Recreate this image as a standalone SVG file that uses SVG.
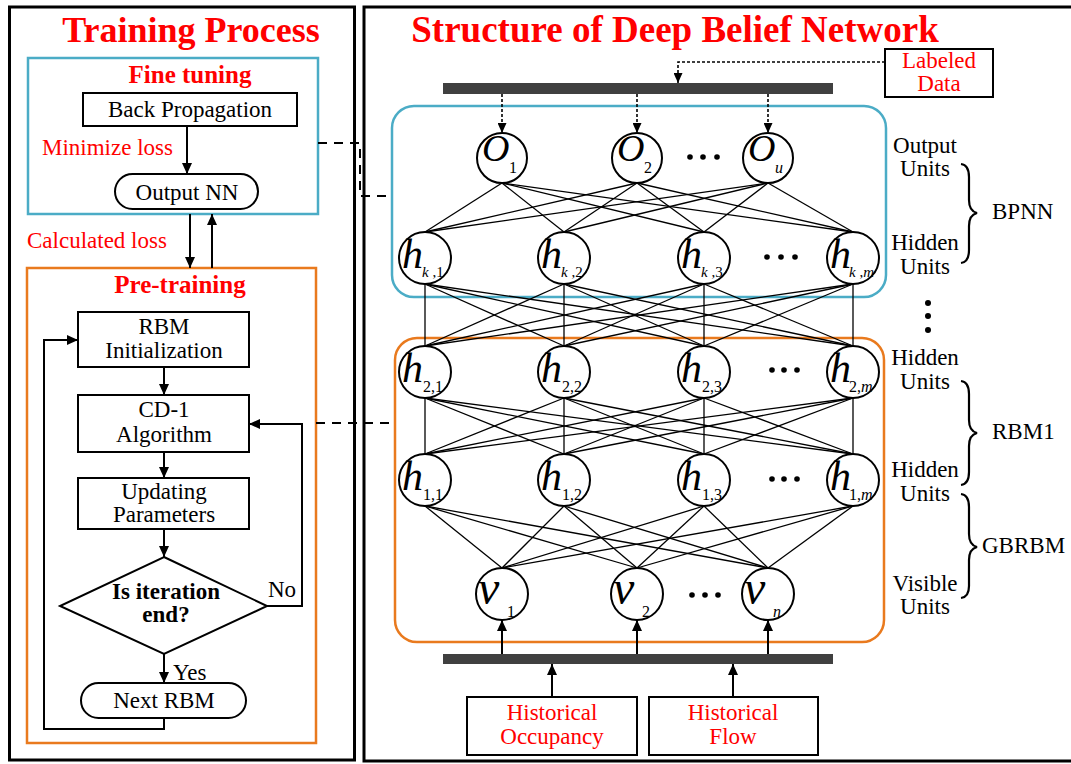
<svg xmlns="http://www.w3.org/2000/svg" width="1071" height="764" viewBox="0 0 1071 764">
<defs>
<style>
text{font-family:"Liberation Serif","Times New Roman",serif;fill:#000}
.t{font-size:23px;text-anchor:middle}
.red{fill:#FF0000}
.ttl{font-size:37px;font-weight:bold;text-anchor:middle;fill:#FF0000}
.sub{font-size:25px;font-weight:bold;text-anchor:middle;fill:#FF0000}
.box{fill:#fff;stroke:#000;stroke-width:2}
.panel{fill:none;stroke:#000;stroke-width:3}
.cyan{fill:none;stroke:#4BACC6;stroke-width:2.5}
.orange{fill:none;stroke:#E97A1E;stroke-width:2.5}
.arr{fill:none;stroke:#000;stroke-width:2;marker-end:url(#ah)}
.dot{fill:none;stroke:#000;stroke-width:1.6;stroke-dasharray:3,2;marker-end:url(#ahs)}
.dash{fill:none;stroke:#000;stroke-width:2;stroke-dasharray:9,7}
.edge{stroke:#000;stroke-width:1.3}
.node{fill:#fff;stroke:#000;stroke-width:2}
.lab{font-style:italic}
.bar{fill:#404040}
.brace{fill:none;stroke:#000;stroke-width:2.2}
</style>
<marker id="ah" markerUnits="userSpaceOnUse" markerWidth="11" markerHeight="10" refX="11" refY="5" orient="auto"><path d="M0,0 L11,5 L0,10 z" fill="#000"/></marker>
<marker id="ahs" markerUnits="userSpaceOnUse" markerWidth="10" markerHeight="9" refX="10" refY="4.5" orient="auto"><path d="M0,0 L10,4.5 L0,9 z" fill="#000"/></marker>
</defs>

<!-- panels -->
<rect class="panel" x="9.5" y="7" width="345" height="753"/>
<path class="panel" d="M1075,7 H364 V761 H1075"/>
<text class="ttl" x="191" y="42" style="font-size:36px">Training Process</text>
<text class="ttl" x="675" y="42">Structure of Deep Belief Network</text>

<!-- Left: training process -->
<g id="fine-tuning">
<rect class="cyan" x="28" y="58" width="290" height="156"/>
<text class="sub" x="190" y="83">Fine tuning</text>
</g>
<g id="back-propagation">
<rect class="box" x="83" y="93" width="214" height="33"/>
<text class="t" x="190" y="117">Back Propagation</text>
</g>
<text class="t red" x="42" y="155" style="text-anchor:start">Minimize loss</text>
<g id="output-nn">
<rect class="box" x="115" y="174" width="143" height="35" rx="17.5"/>
<text class="t" x="187" y="200">Output NN</text>
</g>
<text class="t red" x="27" y="248" style="text-anchor:start">Calculated loss</text>
<g id="pre-training">
<rect class="orange" x="27" y="268" width="289" height="475"/>
<text class="sub" x="180" y="293">Pre-training</text>
</g>
<g id="rbm-init">
<rect class="box" x="78" y="312" width="171" height="55"/>
<text class="t" x="164" y="334">RBM</text>
<text class="t" x="164" y="358">Initialization</text>
</g>
<g id="cd1">
<rect class="box" x="78" y="395" width="171" height="57"/>
<text class="t" x="164" y="417">CD-1</text>
<text class="t" x="164" y="442">Algorithm</text>
</g>
<g id="updating">
<rect class="box" x="78" y="478" width="171" height="51"/>
<text class="t" x="164" y="499">Updating</text>
<text class="t" x="164" y="522">Parameters</text>
</g>
<g id="decision">
<polygon class="box" points="164,557 267,606 164,654 60,606"/>
<text class="t" x="166" y="599" style="font-weight:bold">Is iteration</text>
<text class="t" x="166" y="622" style="font-weight:bold">end?</text>
</g>
<text class="t" x="268" y="597" style="text-anchor:start">No</text>
<text class="t" x="173" y="680" style="text-anchor:start">Yes</text>
<g id="next-rbm">
<rect class="box" x="81" y="683" width="165" height="35" rx="17.5"/>
<text class="t" x="164" y="708">Next RBM</text>
</g>

<!-- Right: DBN structure -->
<g id="bpnn-box"><rect class="cyan" x="392" y="106" width="494" height="191" rx="22"/></g>
<g id="rbm-box"><rect class="orange" x="395" y="338" width="489" height="304" rx="22"/></g>
<g id="top-bar"><rect class="bar" x="443" y="83" width="390" height="11"/></g>
<g id="bottom-bar"><rect class="bar" x="443" y="654" width="390" height="10"/></g>
<g id="labeled-data">
<rect class="box" x="885" y="49" width="108" height="48"/>
<text class="t red" x="939" y="68">Labeled</text>
<text class="t red" x="939" y="91">Data</text>
</g>
<g id="hist-occupancy">
<rect class="box" x="467" y="697" width="170" height="58"/>
<text class="t red" x="552" y="720">Historical</text>
<text class="t red" x="552" y="744">Occupancy</text>
</g>
<g id="hist-flow">
<rect class="box" x="649" y="697" width="169" height="58"/>
<text class="t red" x="733" y="720">Historical</text>
<text class="t red" x="733" y="744">Flow</text>
</g>

<!-- connectors -->
<g id="connectors">
<line class="arr" x1="187" y1="126" x2="187" y2="174"/>
<line class="arr" x1="190" y1="214" x2="190" y2="268"/>
<line class="arr" x1="212" y1="268" x2="212" y2="214"/>
<line class="arr" x1="164" y1="367" x2="164" y2="395"/>
<line class="arr" x1="164" y1="452" x2="164" y2="478"/>
<line class="arr" x1="164" y1="529" x2="164" y2="557"/>
<polyline class="arr" points="267,606 302,606 302,424 249,424"/>
<line class="arr" x1="164" y1="654" x2="164" y2="683"/>
<polyline class="arr" points="164,718 164,729 44,729 44,340 78,340"/>
<polyline class="dash" points="318,143 360,143 360,196 392,196"/>
<line class="dash" x1="316" y1="423" x2="395" y2="423"/>
<polyline class="dot" points="885,62 678,62 678,83"/>
<line class="dot" x1="502" y1="94" x2="502" y2="133"/>
<line class="dot" x1="637" y1="94" x2="637" y2="133"/>
<line class="dot" x1="768" y1="94" x2="768" y2="133"/>
<line class="arr" x1="502" y1="654" x2="502" y2="620"/>
<line class="arr" x1="637" y1="654" x2="637" y2="620"/>
<line class="arr" x1="768" y1="654" x2="768" y2="620"/>
<line class="arr" x1="552" y1="697" x2="552" y2="664"/>
<line class="arr" x1="733" y1="697" x2="733" y2="664"/>
<g class="edge">
<line x1="502" y1="183" x2="425" y2="232"/><line x1="502" y1="183" x2="564" y2="232"/><line x1="502" y1="183" x2="704" y2="232"/><line x1="502" y1="183" x2="853" y2="232"/>
<line x1="637" y1="183" x2="425" y2="232"/><line x1="637" y1="183" x2="564" y2="232"/><line x1="637" y1="183" x2="704" y2="232"/><line x1="637" y1="183" x2="853" y2="232"/>
<line x1="768" y1="183" x2="425" y2="232"/><line x1="768" y1="183" x2="564" y2="232"/><line x1="768" y1="183" x2="704" y2="232"/><line x1="768" y1="183" x2="853" y2="232"/>
<line x1="425" y1="284" x2="425" y2="346"/><line x1="425" y1="284" x2="564" y2="346"/><line x1="425" y1="284" x2="704" y2="346"/><line x1="425" y1="284" x2="853" y2="346"/>
<line x1="564" y1="284" x2="425" y2="346"/><line x1="564" y1="284" x2="564" y2="346"/><line x1="564" y1="284" x2="704" y2="346"/><line x1="564" y1="284" x2="853" y2="346"/>
<line x1="704" y1="284" x2="425" y2="346"/><line x1="704" y1="284" x2="564" y2="346"/><line x1="704" y1="284" x2="704" y2="346"/><line x1="704" y1="284" x2="853" y2="346"/>
<line x1="853" y1="284" x2="425" y2="346"/><line x1="853" y1="284" x2="564" y2="346"/><line x1="853" y1="284" x2="704" y2="346"/><line x1="853" y1="284" x2="853" y2="346"/>
<line x1="425" y1="398" x2="425" y2="454"/><line x1="425" y1="398" x2="564" y2="454"/><line x1="425" y1="398" x2="704" y2="454"/><line x1="425" y1="398" x2="853" y2="454"/>
<line x1="564" y1="398" x2="425" y2="454"/><line x1="564" y1="398" x2="564" y2="454"/><line x1="564" y1="398" x2="704" y2="454"/><line x1="564" y1="398" x2="853" y2="454"/>
<line x1="704" y1="398" x2="425" y2="454"/><line x1="704" y1="398" x2="564" y2="454"/><line x1="704" y1="398" x2="704" y2="454"/><line x1="704" y1="398" x2="853" y2="454"/>
<line x1="853" y1="398" x2="425" y2="454"/><line x1="853" y1="398" x2="564" y2="454"/><line x1="853" y1="398" x2="704" y2="454"/><line x1="853" y1="398" x2="853" y2="454"/>
<line x1="425" y1="506" x2="502" y2="568"/><line x1="425" y1="506" x2="637" y2="568"/><line x1="425" y1="506" x2="768" y2="568"/>
<line x1="564" y1="506" x2="502" y2="568"/><line x1="564" y1="506" x2="637" y2="568"/><line x1="564" y1="506" x2="768" y2="568"/>
<line x1="704" y1="506" x2="502" y2="568"/><line x1="704" y1="506" x2="637" y2="568"/><line x1="704" y1="506" x2="768" y2="568"/>
<line x1="853" y1="506" x2="502" y2="568"/><line x1="853" y1="506" x2="637" y2="568"/><line x1="853" y1="506" x2="768" y2="568"/>
</g>
</g>

<!-- nodes -->
<g id="o1"><circle class="node" cx="502" cy="158" r="25"/><text class="lab" x="482" y="161" font-size="38">O</text><text x="509" y="173" font-size="16">1</text></g>
<g id="o2"><circle class="node" cx="637" cy="158" r="25"/><text class="lab" x="617" y="161" font-size="38">O</text><text x="644" y="173" font-size="16">2</text></g>
<g id="ou"><circle class="node" cx="768" cy="158" r="25"/><text class="lab" x="748" y="161" font-size="38">O</text><text class="lab" x="775" y="173" font-size="16">u</text></g>

<g id="hk1"><circle class="node" cx="425" cy="258" r="26"/><text class="lab" x="402" y="268" font-size="42">h</text><text x="422" y="277" font-size="15"><tspan font-style="italic">k</tspan> ,1</text></g>
<g id="hk2"><circle class="node" cx="564" cy="258" r="26"/><text class="lab" x="541" y="268" font-size="42">h</text><text x="561" y="277" font-size="15"><tspan font-style="italic">k</tspan> ,2</text></g>
<g id="hk3"><circle class="node" cx="704" cy="258" r="26"/><text class="lab" x="681" y="268" font-size="42">h</text><text x="701" y="277" font-size="15"><tspan font-style="italic">k</tspan> ,3</text></g>
<g id="hkm"><circle class="node" cx="853" cy="258" r="26"/><text class="lab" x="830" y="268" font-size="42">h</text><text x="849" y="277" font-size="15"><tspan font-style="italic">k</tspan> ,<tspan font-style="italic">m</tspan></text></g>

<g id="h21"><circle class="node" cx="425" cy="372" r="26"/><text class="lab" x="402" y="382" font-size="42">h</text><text x="423" y="392" font-size="16">2,1</text></g>
<g id="h22"><circle class="node" cx="564" cy="372" r="26"/><text class="lab" x="541" y="382" font-size="42">h</text><text x="562" y="392" font-size="16">2,2</text></g>
<g id="h23"><circle class="node" cx="704" cy="372" r="26"/><text class="lab" x="681" y="382" font-size="42">h</text><text x="702" y="392" font-size="16">2,3</text></g>
<g id="h2m"><circle class="node" cx="853" cy="372" r="26"/><text class="lab" x="830" y="382" font-size="42">h</text><text x="849" y="392" font-size="16">2,<tspan font-style="italic">m</tspan></text></g>

<g id="h11"><circle class="node" cx="425" cy="480" r="26"/><text class="lab" x="402" y="490" font-size="42">h</text><text x="423" y="500" font-size="16">1,1</text></g>
<g id="h12"><circle class="node" cx="564" cy="480" r="26"/><text class="lab" x="541" y="490" font-size="42">h</text><text x="562" y="500" font-size="16">1,2</text></g>
<g id="h13"><circle class="node" cx="704" cy="480" r="26"/><text class="lab" x="681" y="490" font-size="42">h</text><text x="702" y="500" font-size="16">1,3</text></g>
<g id="h1m"><circle class="node" cx="853" cy="480" r="26"/><text class="lab" x="830" y="490" font-size="42">h</text><text x="849" y="500" font-size="16">1,<tspan font-style="italic">m</tspan></text></g>

<g id="v1"><circle class="node" cx="502" cy="594" r="26"/><text class="lab" x="478" y="604" font-size="48">v</text><text x="507" y="617" font-size="16">1</text></g>
<g id="v2"><circle class="node" cx="637" cy="594" r="26"/><text class="lab" x="613" y="604" font-size="48">v</text><text x="642" y="617" font-size="16">2</text></g>
<g id="vn"><circle class="node" cx="768" cy="594" r="26"/><text class="lab" x="744" y="604" font-size="48">v</text><text class="lab" x="773" y="617" font-size="16">n</text></g>

<!-- ellipses -->
<g id="ellipses" fill="#000">
<circle cx="690" cy="157" r="2.8"/><circle cx="703" cy="157" r="2.8"/><circle cx="717" cy="157" r="2.8"/>
<circle cx="767" cy="257" r="2.8"/><circle cx="781" cy="257" r="2.8"/><circle cx="795" cy="257" r="2.8"/>
<circle cx="772" cy="370" r="2.8"/><circle cx="784" cy="370" r="2.8"/><circle cx="797" cy="370" r="2.8"/>
<circle cx="772" cy="479" r="2.8"/><circle cx="784" cy="479" r="2.8"/><circle cx="797" cy="479" r="2.8"/>
<circle cx="692" cy="595" r="2.8"/><circle cx="705" cy="595" r="2.8"/><circle cx="718" cy="595" r="2.8"/>
<circle cx="928" cy="303" r="3"/><circle cx="928" cy="316" r="3"/><circle cx="928" cy="330" r="3"/>
</g>

<!-- layer labels -->
<g id="layer-labels">
<text class="t" x="925" y="153">Output</text><text class="t" x="925" y="176">Units</text>
<text class="t" x="925" y="250">Hidden</text><text class="t" x="925" y="274">Units</text>
<text class="t" x="925" y="365">Hidden</text><text class="t" x="925" y="389">Units</text>
<text class="t" x="925" y="477">Hidden</text><text class="t" x="925" y="501">Units</text>
<text class="t" x="925" y="591">Visible</text><text class="t" x="925" y="614">Units</text>
<text class="t" x="992" y="219" style="text-anchor:start">BPNN</text>
<text class="t" x="992" y="439" style="text-anchor:start">RBM1</text>
<text class="t" x="982" y="553" style="text-anchor:start">GBRBM</text>
<path class="brace" d="M961,164 Q969,165 969,177 L969,200 Q969,211 977,213 Q969,215 969,226 L969,250 Q969,262 961,263"/>
<path class="brace" d="M961,381 Q969,382 969,394 L969,420 Q969,431 977,433 Q969,435 969,446 L969,472 Q969,484 961,485"/>
<path class="brace" d="M961,494 Q969,495 969,507 L969,534 Q969,545 977,547 Q969,549 969,560 L969,586 Q969,597 961,598"/>
</g>
</svg>
